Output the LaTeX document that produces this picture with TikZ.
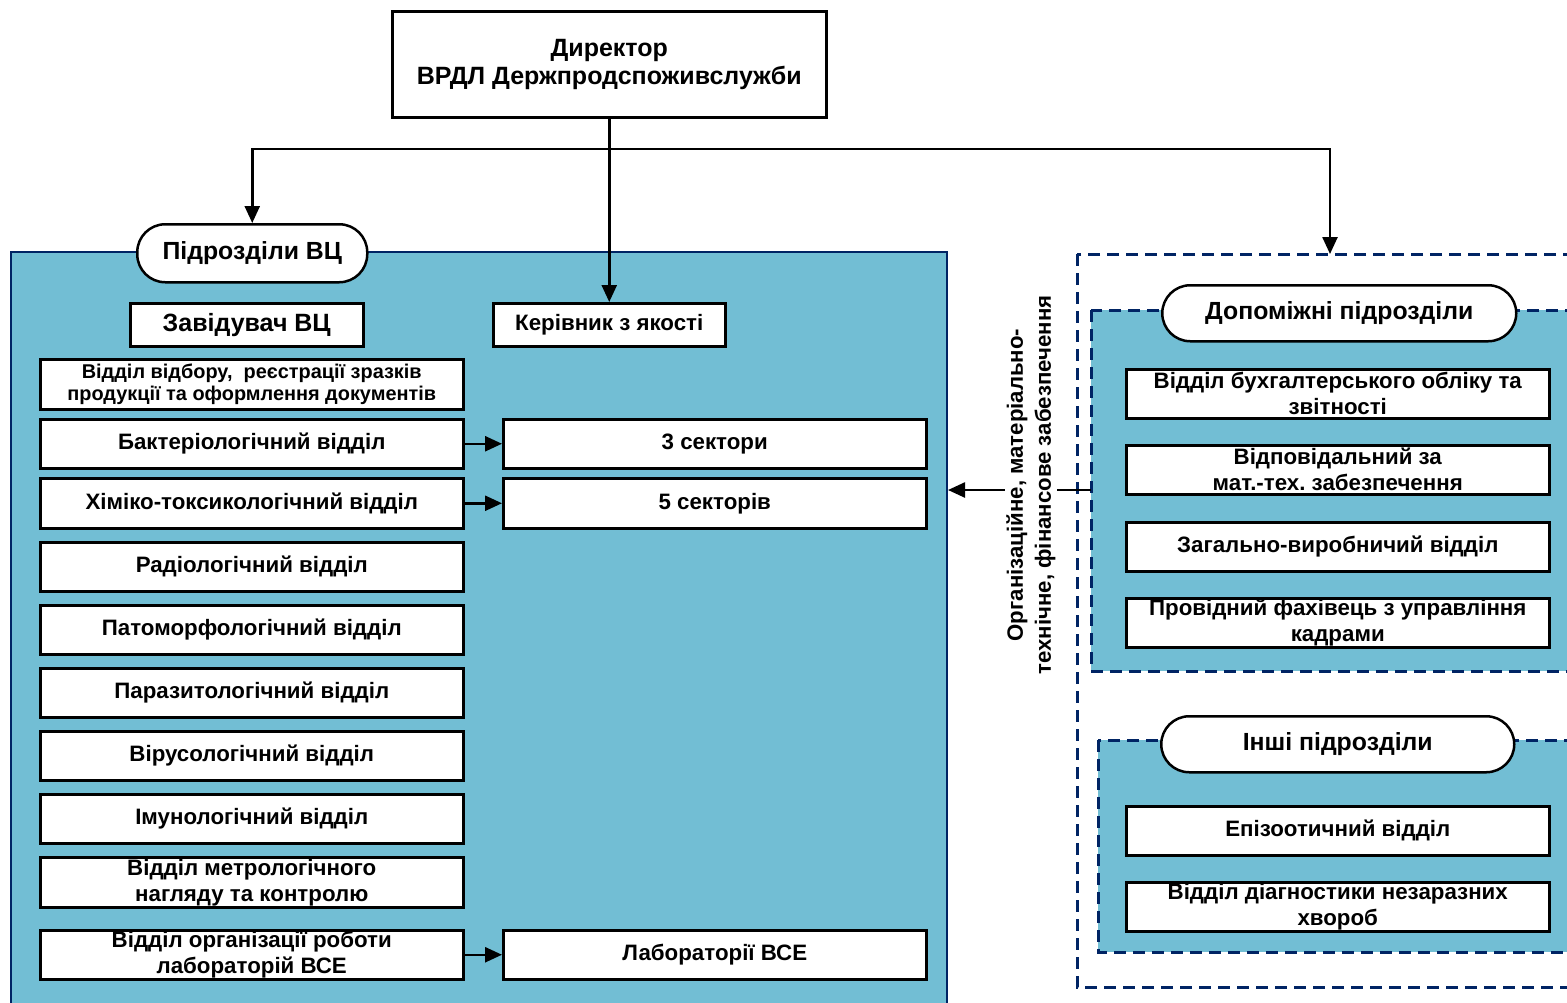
\documentclass[tikz,border=0pt]{standalone}
\usepackage{fontspec}
\setmainfont{Liberation Sans}
\usetikzlibrary{arrows.meta}
\definecolor{vcblue}{RGB}{114,190,212}
\definecolor{navy}{RGB}{0,36,100}
\frenchspacing
\begin{document}
\begin{tikzpicture}[x=1pt,y=-1pt,
  box/.style={draw,line width=2.5pt,fill=white,anchor=north west,inner sep=0pt,align=center,
    font=\bfseries\fontsize{22.3}{26}\selectfont},
  lbox/.style={box,minimum width=423pt,minimum height=49pt},
  rbox/.style={lbox,font=\bfseries\fontsize{22.3}{26}\selectfont},
  oval/.style={draw,line width=2.5pt,fill=white,anchor=north west,inner sep=0pt,rounded corners=28pt,
    font=\bfseries\fontsize{24.8}{28}\selectfont},
  arr/.style={line width=2.5pt,-{Triangle[length=17pt,width=15pt]}},
  dashbox/.style={draw=navy,line width=3pt,dash pattern=on 12pt off 7pt}
]
\useasboundingbox (0,0) rectangle (1567,1002);
\begin{scope}
\clip (0,0) rectangle (1567,1002);
% big left area
\node[draw=navy,line width=2pt,fill=vcblue,anchor=north west,minimum width=936pt,minimum height=770pt,inner sep=0pt] (big) at (10,251) {};
% right areas
\draw[dashbox] (1077,254) rectangle (1600,987);
\draw[dashbox,fill=vcblue] (1091,310) rectangle (1600,671);
\draw[dashbox,fill=vcblue] (1098,740) rectangle (1600,952);
\end{scope}

% director
\node[box,minimum width=434pt,minimum height=106pt,font=\bfseries\fontsize{25}{28}\selectfont] (dir) at (391,10) {Директор\\ВРДЛ Держпродспоживслужби};

% left labels
\node[oval,minimum width=230pt,minimum height=58pt] (ovvc) at (136,223) {Підрозділи ВЦ};
\node[box,minimum width=233pt,minimum height=43pt,font=\bfseries\fontsize{25}{28}\selectfont] (zav) at (129,302) {Завідувач ВЦ};
\node[box,minimum width=232pt,minimum height=43pt] (ker) at (492,302) {Керівник з якості};

\node[lbox,minimum height=50pt,font=\bfseries\fontsize{19.9}{22}\selectfont] (vidb) at (39,358) {Відділ відбору,~ реєстрації зразків\\продукції та оформлення документів};
\node[lbox] (bak) at (39,418) {Бактеріологічний відділ};
\node[lbox,minimum height=50pt] (him) at (39,477) {Хіміко-токсикологічний відділ};
\node[lbox] (rad) at (39,541) {Радіологічний відділ};
\node[lbox] (pat) at (39,604) {Патоморфологічний відділ};
\node[lbox] (par) at (39,667) {Паразитологічний відділ};
\node[lbox] (vir) at (39,730) {Вірусологічний відділ};
\node[lbox] (imu) at (39,793) {Імунологічний відділ};
\node[lbox,minimum height=50pt] (met) at (39,856) {Відділ метрологічного\\нагляду та контролю};
\node[lbox] (org) at (39,929) {Відділ організації роботи\\лабораторій ВСЕ};

\node[lbox] (sec3) at (502,418) {3 сектори};
\node[lbox,minimum height=50pt] (sec5) at (502,477) {5 секторів};
\node[lbox] (lab) at (502,929) {Лабораторії ВСЕ};

% right side
\node[oval,minimum width=354pt,minimum height=56pt] (ovdop) at (1161,284) {Допоміжні підрозділи};
\node[rbox] (buh) at (1125,368) {Відділ бухгалтерського обліку та\\звітності};
\node[rbox] (vidp) at (1125,444) {Відповідальний за\\мат.-тех. забезпечення};
\node[rbox] (zag) at (1125,521) {Загально-виробничий відділ};
\node[rbox] (prov) at (1125,597) {Провідний фахівець з управління\\кадрами};

\node[oval,minimum width=353pt,minimum height=56pt] (ovin) at (1160,715) {Інші підрозділи};
\node[rbox] (epi) at (1125,805) {Епізоотичний відділ};
\node[rbox] (diag) at (1125,881) {Відділ діагностики незаразних\\хвороб};

% connectors
\coordinate (jn) at (608,149);
\coordinate (auxtop) at (1330,254);
\coordinate (sup) at (1091,490);
\draw[arr] (dir.south) -- (dir.south |- ker.north);
\draw[arr] (jn) -| (ovvc.north);
\draw[arr] (jn) -| (auxtop);
\draw[arr] (bak.east) -- (sec3.west);
\draw[arr] (him.east) -- (sec5.west);
\draw[arr] (org.east) -- (lab.west);
\draw[arr] (sup) -- (big.east |- sup);

\node[rotate=90,fill=white,inner sep=1pt,align=center,font=\bfseries\fontsize{22.2}{28}\selectfont] (vt) at (1031,485) {Організаційне, матеріально-\\технічне, фінансове забезпечення};
\end{tikzpicture}
\end{document}
